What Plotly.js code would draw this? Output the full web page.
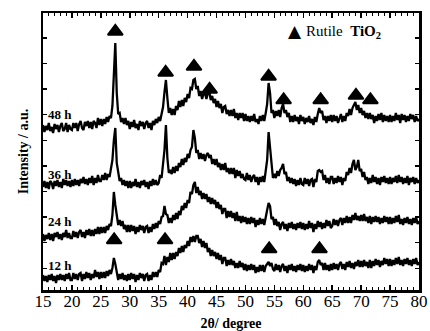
<!DOCTYPE html>
<html>
<head>
<meta charset="utf-8">
<script src="https://cdn.plot.ly/plotly-3.0.1.min.js"></script>
<style>html,body{margin:0;padding:0;background:#fff;}#chart{width:430px;height:331px;}</style>
</head>
<body>
<div id="chart"></div>
<script>
// 2θ scan grid
const twoThetaStart = 15;
const twoThetaStep = 0.25;

// Intensities (a.u., offset-stacked), one value per 0.25° from 15° to 80°
const intensity48h = [
165,158,164,160,167,159,163,157,166,161,165,158,164,167,159,161,167,158,165,161,
160,167,162,167,159,166,169,162,160,168,164,169,162,168,161,169,167,162,172,165,
171,164,171,166,173,168,174,172,184,210,247,197,176,177,168,172,166,172,165,169,
161,168,163,170,162,166,160,169,164,168,161,167,169,162,167,160,169,165,171,167,
173,169,178,183,198,210,192,177,182,175,181,175,184,180,189,183,190,184,192,188,
196,192,202,201,210,211,201,204,194,199,191,196,197,191,197,198,190,194,187,191,
183,189,182,186,177,183,184,176,180,174,180,174,181,172,177,170,177,172,177,169,
176,169,174,168,174,169,176,168,171,166,174,169,175,169,177,186,207,197,177,180,
172,179,174,180,173,182,186,177,180,173,177,168,174,168,175,169,173,166,175,169,
173,166,172,168,174,167,171,165,173,168,176,182,177,179,170,174,167,174,169,175,
168,175,169,174,167,173,176,168,174,169,177,174,181,175,182,185,188,180,185,177,
182,175,179,172,177,171,177,171,175,167,174,169,176,170,177,168,175,169,174,168,
175,168,174,169,177,170,175,167,176,170,175,168,174,169,176,171,175,168,174,169,
171];

const intensity36h = [
103,109,102,108,101,109,107,101,109,104,110,103,108,102,111,105,110,104,109,103,
110,104,111,105,110,104,111,107,113,106,111,105,112,107,114,105,112,107,115,109,
109,115,110,117,110,116,113,120,130,150,162,127,118,109,112,105,110,104,109,102,
109,102,108,104,111,103,108,102,109,105,110,103,108,101,109,104,111,105,110,105,
107,115,112,124,140,165,132,117,120,116,123,117,124,119,127,123,131,125,132,128,
136,132,140,143,160,152,137,140,131,137,131,136,129,135,137,132,135,126,131,125,
131,123,127,120,126,120,127,118,122,116,122,116,122,112,120,114,119,112,116,111,
110,117,110,115,108,113,115,108,113,105,113,108,114,108,117,130,158,142,121,112,
116,112,119,114,120,122,126,116,118,109,113,107,112,106,111,104,110,105,112,106,
105,112,106,111,104,110,111,103,111,108,119,120,118,119,110,115,107,112,106,113,
113,106,112,107,114,108,113,105,112,109,118,115,122,117,126,130,120,123,130,119,
121,113,118,110,113,106,112,107,115,108,113,106,112,105,113,108,114,107,112,106,
113,106,112,108,114,107,115,108,113,106,112,107,114,105,112,108,113,106,112,107,
110];

const intensity24h = [
56,49,55,51,57,50,56,49,57,53,58,51,56,50,57,53,60,52,57,52,
52,59,53,58,52,58,60,53,58,52,60,55,61,54,60,54,61,56,63,56,
63,57,63,57,64,60,66,64,75,98,85,74,65,70,64,69,61,65,58,65,
58,65,59,64,56,63,58,65,60,64,57,63,64,57,63,58,66,61,67,62,
69,66,73,74,84,76,75,67,72,67,75,70,77,71,79,75,84,80,87,82,
90,87,98,96,105,108,97,103,95,99,91,97,91,96,88,93,86,92,86,90,
82,88,81,85,76,81,81,72,79,73,79,72,77,69,78,69,74,67,74,68,
73,66,72,66,73,67,72,63,70,65,72,66,71,65,74,80,87,84,71,73,
65,71,64,68,60,66,68,61,66,59,67,62,68,61,66,60,67,62,68,61,
67,60,66,61,69,62,67,58,66,61,69,63,68,61,67,62,70,64,69,62,
64,71,65,70,64,70,72,65,72,67,74,67,73,67,75,70,77,70,74,69,
75,69,76,69,73,67,74,66,73,68,74,68,73,66,72,67,74,68,73,66,
73,66,72,67,74,68,75,66,71,65,72,67,73,66,71,65,72,67,73,66,
69];

const intensity12h = [
15,9,14,8,15,10,16,9,14,7,15,10,16,10,15,9,16,11,17,10,
10,17,11,16,10,16,17,9,16,11,18,12,17,10,16,12,20,13,18,11,
18,12,18,12,19,14,20,16,22,32,26,18,10,16,11,17,10,15,9,16,
10,17,11,16,8,15,10,17,12,16,9,15,16,9,15,10,18,13,18,13,
20,18,27,26,34,25,33,28,37,30,37,31,38,34,42,37,44,38,45,42,
49,44,53,48,54,48,54,54,47,51,43,49,42,47,38,42,34,40,34,38,
31,37,30,35,26,32,32,24,30,25,31,25,29,22,27,22,29,23,27,20,
26,19,25,20,26,20,25,17,23,18,25,19,25,18,24,26,28,24,27,21,
19,26,20,25,18,24,26,19,24,17,25,20,26,19,24,18,25,20,26,19,
25,18,24,19,26,20,25,17,24,20,28,30,25,27,20,27,20,25,19,26,
20,27,21,26,20,26,28,21,26,20,28,23,29,22,27,21,28,24,30,23,
29,23,30,24,28,22,30,22,29,24,31,25,30,23,29,25,32,26,31,24,
31,24,30,25,32,26,33,25,30,24,31,26,32,25,30,24,31,26,32,25,
28];

// Rutile TiO2 reflection markers
const rutile48hX = [27.5, 36.2, 41.1, 43.8, 54.0, 56.6, 63.0, 69.1, 71.6];
const rutile48hY = [258.5, 217.5, 223.5, 200.5, 213.5, 190, 190, 194.5, 190];
const rutile12hX = [27.3, 36.1, 54.1, 62.8];
const rutile12hY = [50, 50, 41, 41];

const sampleLabels = ['48 h', '36 h', '24 h', '12 h'];
const xTickVals = [15, 20, 25, 30, 35, 40, 45, 50, 55, 60, 65, 70, 75, 80];

const serif = 'Liberation Serif';

function pattern(y) {
  return {type: 'scatter', mode: 'lines', x0: twoThetaStart, dx: twoThetaStep, y: y,
          line: {color: '#000', width: 2.3}, showlegend: false, hoverinfo: 'skip'};
}
function tri(x, y) {
  return {type: 'scatter', mode: 'markers', x: x, y: y, showlegend: false,
          marker: {symbol: 'triangle-up', size: 13, color: '#000', line: {color: '#000', width: 2}}};
}

const data = [
  pattern(intensity48h), pattern(intensity36h), pattern(intensity24h), pattern(intensity12h),
  tri(rutile48hX, rutile48hY), tri(rutile12hX, rutile12hY)
];

const labelY = [176, 116, 69, 25];
const annotations = sampleLabels.map((t, i) => ({
  text: '<b>' + t + '</b>', x: 15.5, y: labelY[i], xref: 'x', yref: 'y',
  xanchor: 'left', yanchor: 'middle', showarrow: false,
  font: {family: serif, size: 13, color: '#000'}
}));
annotations.push({
  text: '▲', xref: 'paper', yref: 'paper', x: 0.67, y: 0.935,
  xanchor: 'center', yanchor: 'middle', showarrow: false,
  font: {family: 'DejaVu Sans', size: 17, color: '#000'}
});
annotations.push({
  text: 'Rutile  <b>TiO<sub>2</sub></b>', xref: 'paper', yref: 'paper', x: 0.695, y: 0.93,
  xanchor: 'left', yanchor: 'middle', showarrow: false,
  font: {family: serif, size: 15, color: '#000'}
});

const layout = {
  width: 430, height: 331,
  margin: {l: 43, r: 11, t: 13, b: 41},
  paper_bgcolor: '#fff', plot_bgcolor: '#fff',
  showlegend: false,
  font: {family: serif, color: '#000'},
  xaxis: {
    range: [15, 80], tickvals: xTickVals, ticks: 'inside', ticklen: 5, tickwidth: 1.5,
    tickcolor: '#000', showline: true, linewidth: 2.5, linecolor: '#000', mirror: 'ticks',
    showgrid: false, zeroline: false, ticklabelstandoff: -6,
    minor: {dtick: 1, ticks: 'inside', ticklen: 3, tickwidth: 1, tickcolor: '#000', showgrid: false},
    tickfont: {family: serif, size: 17, color: '#000'},
    title: {text: '<b>2θ/ degree</b>', font: {family: serif, size: 14, color: '#000'}, standoff: 10}
  },
  yaxis: {
    range: [0, 277], tick0: 21.7, dtick: 25.6, ticks: 'inside', ticklen: 4, tickwidth: 1.5,
    tickcolor: '#000', showticklabels: false, showline: true, linewidth: 2.5, linecolor: '#000',
    mirror: 'ticks', showgrid: false, zeroline: false,
    title: {text: '<b>Intensity / a.u.</b>', font: {family: serif, size: 14, color: '#000'}, standoff: 9}
  },
  annotations: annotations
};

Plotly.newPlot('chart', data, layout, {staticPlot: true, displayModeBar: false});
</script>
</body>
</html>
